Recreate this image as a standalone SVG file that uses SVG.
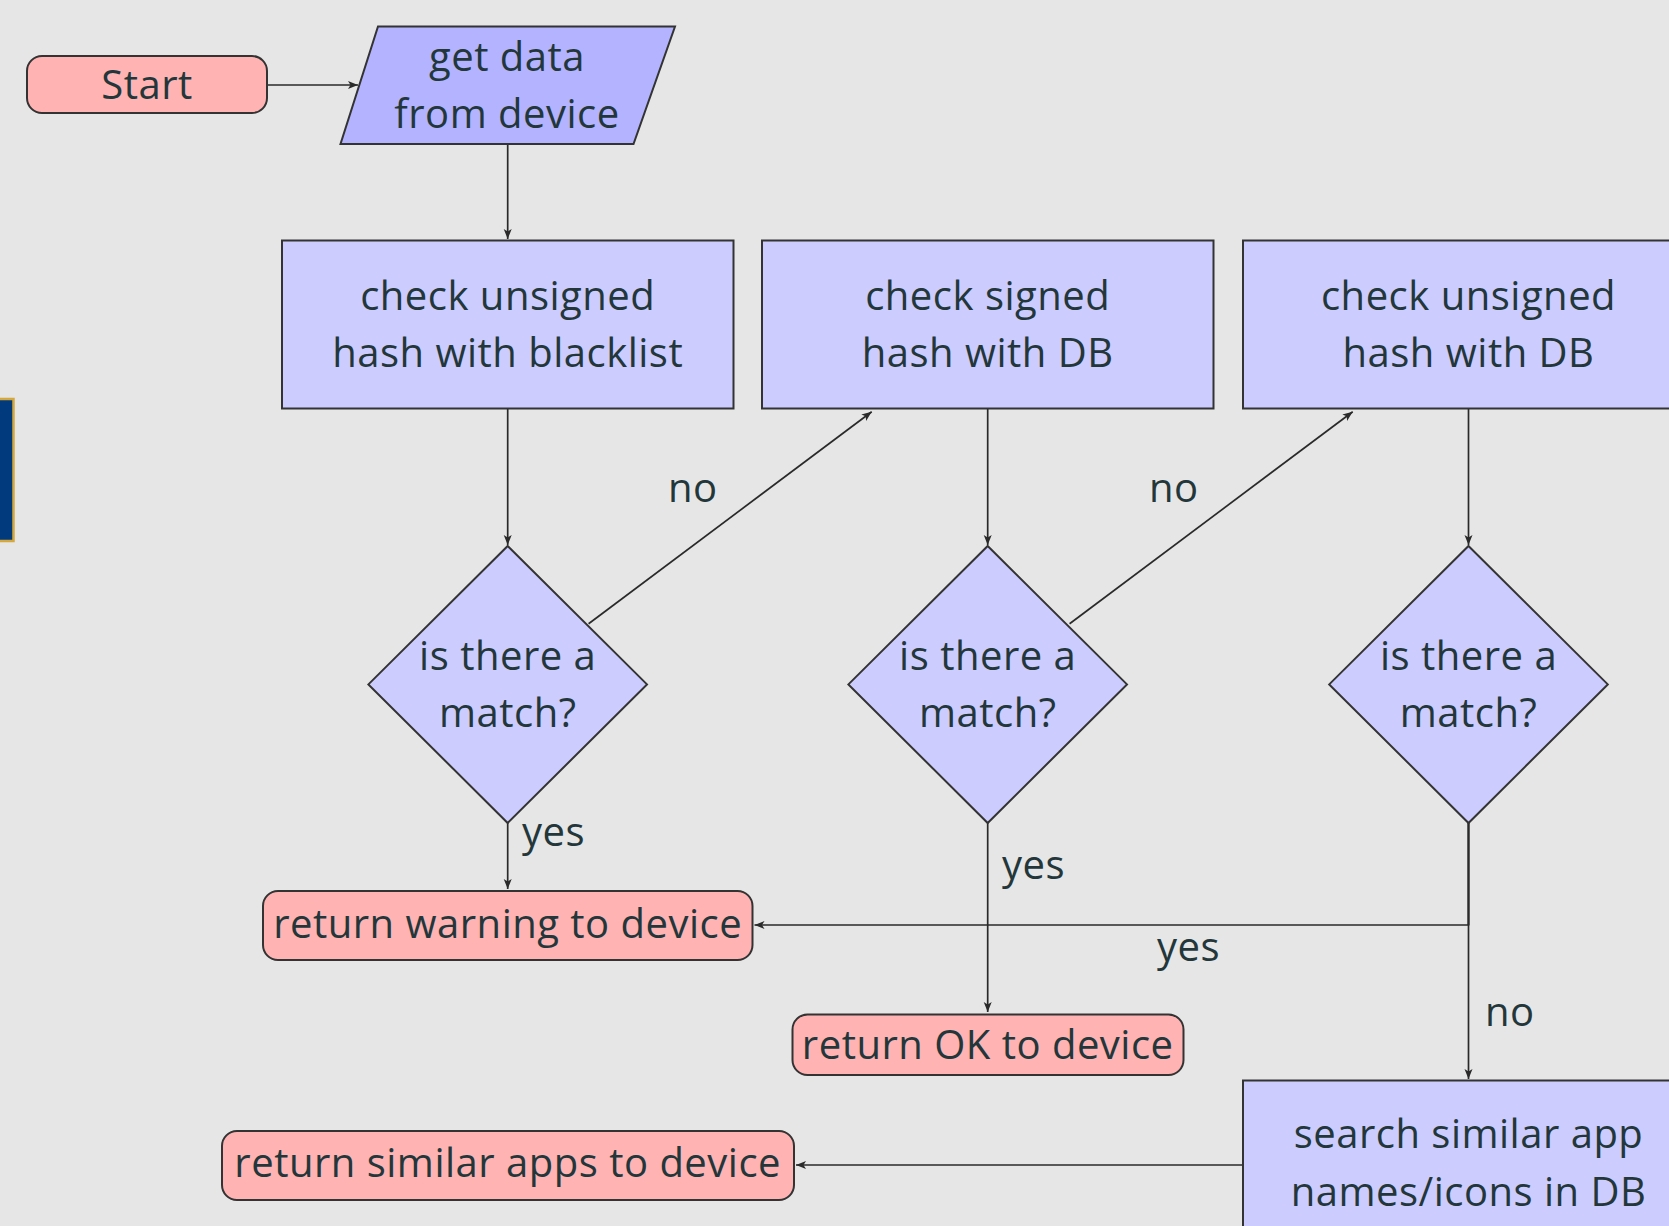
<svg xmlns="http://www.w3.org/2000/svg" width="1669" height="1226" viewBox="0 0 1669 1226">
<style>
text{font-family:"Open Sans","Noto Sans","DejaVu Sans",sans-serif;font-size:40px;fill:#23373b;text-anchor:middle;letter-spacing:0.5px}
.lbl{text-anchor:start}
.term{fill:#ffb3b3;stroke:#333;stroke-width:2}
.proc{fill:#ccccff;stroke:#333;stroke-width:2}
.io{fill:#b3b3ff;stroke:#333;stroke-width:2}
.edge{fill:none;stroke:#2a2a2a;stroke-width:1.7}
</style>
<defs>
<marker id="arr" markerUnits="userSpaceOnUse" markerWidth="12" markerHeight="10" refX="10" refY="4" orient="auto">
<path d="M0,0 L10,4 L0,8 L2.5,4 z" fill="#2a2a2a"/>
</marker>
</defs>
<rect width="1669" height="1226" fill="#e6e6e6"/>
<rect x="-4" y="399" width="17.5" height="142" fill="#013b7e" stroke="#d6a83b" stroke-width="2.5"/>

<g id="connectors">
<path class="edge" d="M267,85 L358,85" marker-end="url(#arr)"/>
<path class="edge" d="M507.7,144 L507.7,239" marker-end="url(#arr)"/>
<path class="edge" d="M507.7,409 L507.7,545" marker-end="url(#arr)"/>
<path class="edge" d="M987.7,409 L987.7,545" marker-end="url(#arr)"/>
<path class="edge" d="M1468.5,409 L1468.5,545" marker-end="url(#arr)"/>
<path class="edge" d="M588.6,623.8 L871.7,411.7" marker-end="url(#arr)"/>
<path class="edge" d="M1069.6,623.8 L1352.7,411.7" marker-end="url(#arr)"/>
<path class="edge" d="M507.7,823 L507.7,889" marker-end="url(#arr)"/>
<path class="edge" d="M987.7,823 L987.7,1012" marker-end="url(#arr)"/>
<path class="edge" d="M1468.5,823 L1468.5,925 L754.5,925" marker-end="url(#arr)"/>
<path class="edge" d="M1468.5,823 L1468.5,1079" marker-end="url(#arr)"/>
<path class="edge" d="M1468.5,823 L1468.5,925" stroke-width="2.8"/>
<path class="edge" d="M1243,1165 L796,1165" marker-end="url(#arr)"/>
<text class="lbl" x="668" y="502">no</text>
<text class="lbl" x="1149" y="502">no</text>
<text class="lbl" x="522" y="846">yes</text>
<text class="lbl" x="1002" y="879">yes</text>
<text class="lbl" x="1157" y="961">yes</text>
<text class="lbl" x="1485" y="1026">no</text>
</g>

<g id="start">
<rect class="term" x="27" y="56" width="240" height="57" rx="15"/>
<text x="147" y="99">Start</text>
</g>
<g id="get-data">
<polygon class="io" points="378,26.5 675,26.5 633.5,144 340.5,144"/>
<text x="507" y="71">get data</text>
<text x="507" y="128">from device</text>
</g>
<g id="check-blacklist">
<rect class="proc" x="282" y="240.5" width="451.5" height="168"/>
<text x="507.7" y="310">check unsigned</text>
<text x="507.7" y="367">hash with blacklist</text>
</g>
<g id="check-signed">
<rect class="proc" x="762" y="240.5" width="451.5" height="168"/>
<text x="987.7" y="310">check signed</text>
<text x="987.7" y="367">hash with DB</text>
</g>
<g id="check-unsigned-db">
<rect class="proc" x="1243" y="240.5" width="451.5" height="168"/>
<text x="1468.5" y="310">check unsigned</text>
<text x="1468.5" y="367">hash with DB</text>
</g>
<g id="match1">
<polygon class="proc" points="507.7,546 647,684.4 507.7,823 368.4,684.4"/>
<text x="507.7" y="670">is there a</text>
<text x="507.7" y="727">match?</text>
</g>
<g id="match2">
<polygon class="proc" points="987.7,546 1127,684.4 987.7,823 848.4,684.4"/>
<text x="987.7" y="670">is there a</text>
<text x="987.7" y="727">match?</text>
</g>
<g id="match3">
<polygon class="proc" points="1468.5,546 1607.8,684.4 1468.5,823 1329.2,684.4"/>
<text x="1468.5" y="670">is there a</text>
<text x="1468.5" y="727">match?</text>
</g>
<g id="return-warning">
<rect class="term" x="263" y="891" width="489.5" height="69" rx="15"/>
<text x="507.7" y="938">return warning to device</text>
</g>
<g id="return-ok">
<rect class="term" x="792.5" y="1014.5" width="391" height="60.5" rx="15"/>
<text x="987.7" y="1059">return OK to device</text>
</g>
<g id="search-similar">
<rect class="proc" x="1243" y="1080.5" width="451.5" height="168"/>
<text x="1468.5" y="1148">search similar app</text>
<text x="1468.5" y="1206">names/icons in DB</text>
</g>
<g id="return-similar">
<rect class="term" x="222" y="1131" width="572" height="69" rx="15"/>
<text x="507.7" y="1177">return similar apps to device</text>
</g>
</svg>
